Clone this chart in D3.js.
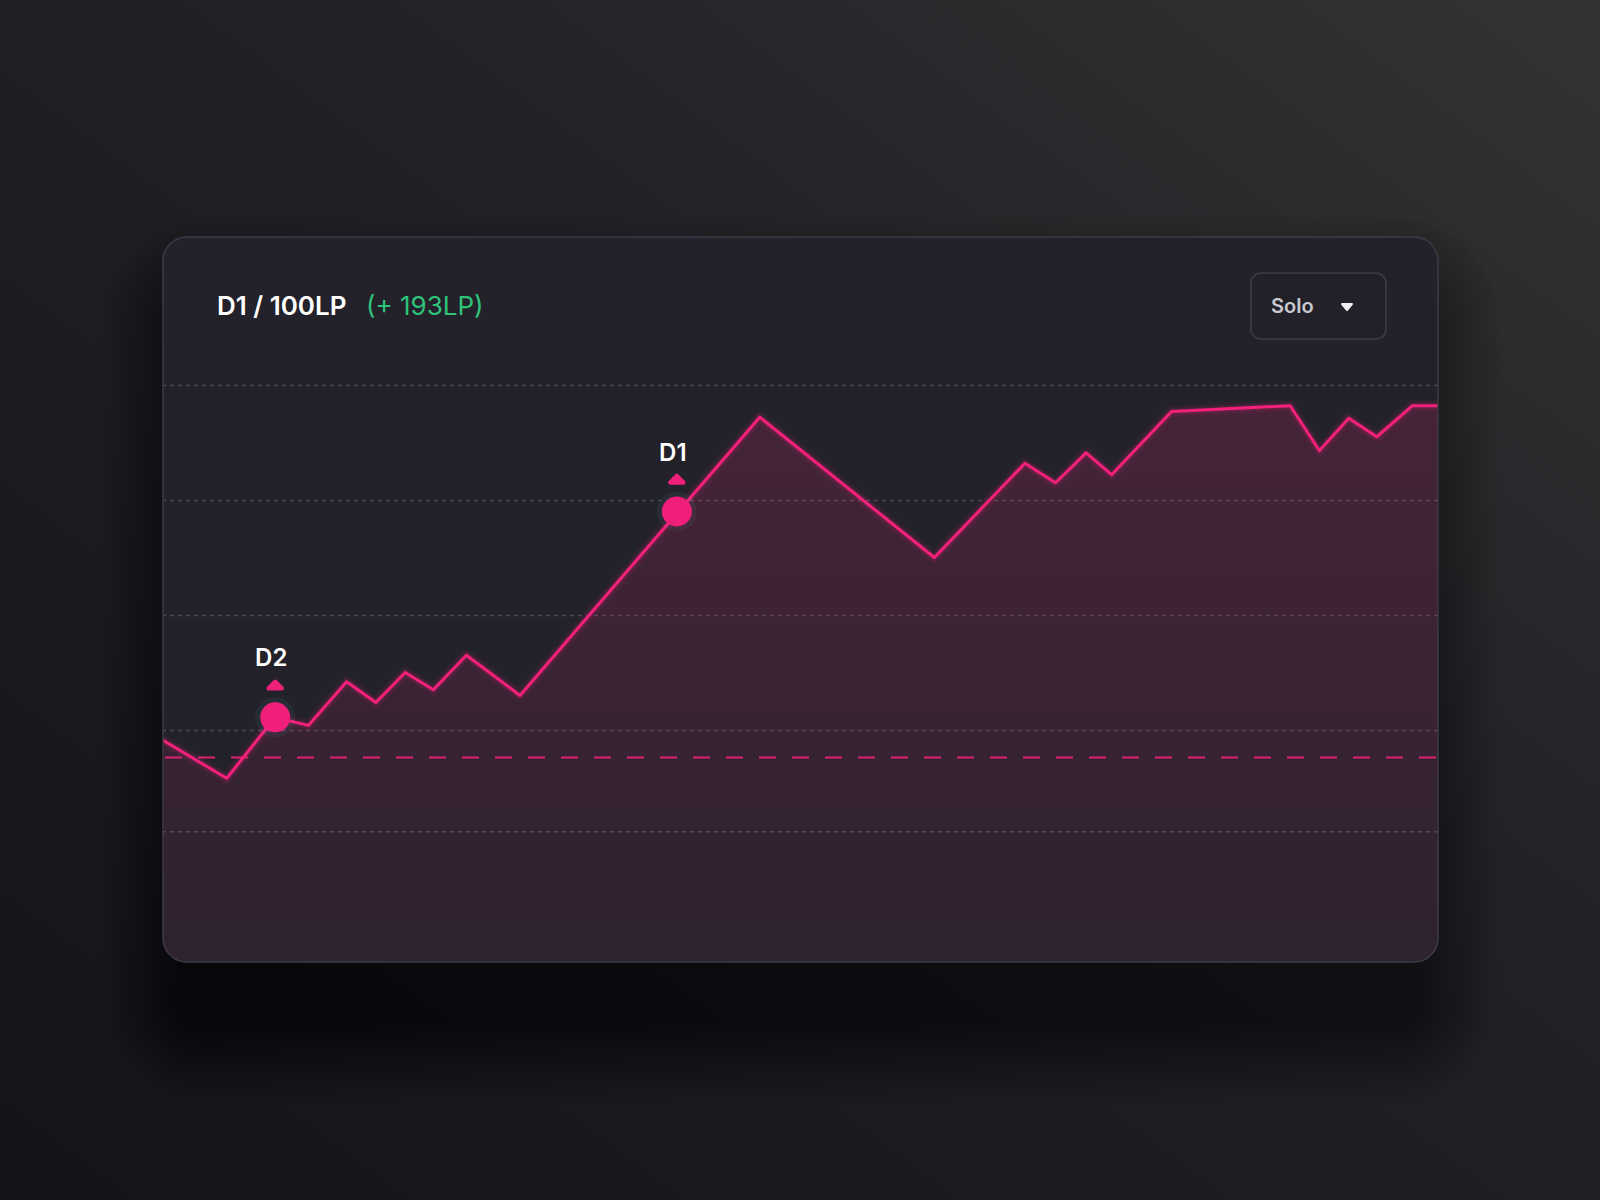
<!DOCTYPE html>
<html>
<head>
<meta charset="utf-8">
<script src="https://cdn.jsdelivr.net/npm/d3@7"></script>
<style>
  html, body { margin: 0; padding: 0; background: #1b1a1f; }
  svg { display: block; }
</style>
</head>
<body>
<div id="chart"></div>
<script>
'use strict';

// LP history (x = game index along the season, y = LP relative to D2 0LP)
var games = [0, 5.0, 8.8, 11.4, 14.4, 16.7, 19.0, 21.2, 23.8, 28.0, 46.8, 60.5, 67.6, 70.0, 72.4, 74.4, 79.1, 88.4, 90.7, 93.0, 95.2, 98.0, 100];
var lpValues = [-9, -42, 11, 4, 42, 24, 50, 35, 65, 30, 272, 150, 232, 215, 241, 222, 277, 282, 243, 271, 255, 282, 282];

// promotion markers
var markerLabels = ['D2', 'D1'];
var markerGames = [8.8, 40.3];
var markerLP = [11, 190];

// horizontal guide values
var gridTicks = [-88, 0, 100, 200, 300];
var startLP = -24;

var titleText = 'D1 / 100LP';
var gainText = '(+ 193LP)';
var queueText = 'Solo';

var W = 1600, H = 1200;
var card = { x: 163, y: 237, w: 1275, h: 725, r: 24 };

var svg = d3.select('#chart').append('svg')
  .attr('width', W)
  .attr('height', H);

var defs = svg.append('defs');

var bg = defs.append('linearGradient').attr('id', 'bg')
  .attr('x1', '100%').attr('y1', '0%').attr('x2', '0%').attr('y2', '100%');
bg.append('stop').attr('offset', '0%').attr('stop-color', '#333335');
bg.append('stop').attr('offset', '40%').attr('stop-color', '#222226');
bg.append('stop').attr('offset', '100%').attr('stop-color', '#141318');

var areaGrad = defs.append('linearGradient').attr('id', 'areaGrad')
  .attr('gradientUnits', 'userSpaceOnUse')
  .attr('x1', 0).attr('y1', 385).attr('x2', 0).attr('y2', card.y + card.h);
areaGrad.append('stop').attr('offset', '0%').attr('stop-color', '#ff2a7f').attr('stop-opacity', 0.16);
areaGrad.append('stop').attr('offset', '100%').attr('stop-color', '#ff2a7f').attr('stop-opacity', 0.05);

defs.append('clipPath').attr('id', 'cardClip')
  .append('rect')
  .attr('x', card.x).attr('y', card.y)
  .attr('width', card.w).attr('height', card.h)
  .attr('rx', card.r);

// page background
svg.append('rect').attr('width', W).attr('height', H).attr('fill', 'url(#bg)');

// soft shadow under the card, built from stacked translucent layers
var layers = d3.range(1, 17);
svg.append('g').selectAll('rect')
  .data(layers)
  .enter()
  .append('rect')
  .attr('x', function (d) { return card.x + 20 - d * 5; })
  .attr('y', function (d) { return card.y + 60 - d * 5; })
  .attr('width', function (d) { return card.w - 40 + d * 10; })
  .attr('height', function (d) { return card.h + d * 10; })
  .attr('rx', function (d) { return card.r + d * 5; })
  .attr('fill', '#0c0b0e')
  .attr('opacity', 0.025);

// card
svg.append('rect')
  .attr('x', card.x).attr('y', card.y)
  .attr('width', card.w).attr('height', card.h)
  .attr('rx', card.r)
  .attr('fill', '#23222b');

// scales
var x = d3.scaleLinear().domain([0, 100]).range([card.x, card.x + card.w]);
var y = d3.scaleLinear().domain([0, 300]).range([730, 385]);

var plot = svg.append('g').attr('clip-path', 'url(#cardClip)');

// grid lines
plot.append('g')
  .attr('class', 'grid')
  .attr('transform', 'translate(' + (card.x + card.w) + ',0)')
  .call(d3.axisLeft(y).tickValues(gridTicks).tickSize(card.w).tickFormat(''))
  .call(function (g) {
    g.select('.domain').remove();
    g.selectAll('.tick line')
      .attr('stroke', '#4a4954')
      .attr('stroke-width', 1.5)
      .attr('stroke-dasharray', '4 4');
  });

var pts = games.map(function (g, i) { return { g: g, v: lpValues[i] }; });

var area = d3.area()
  .x(function (d) { return x(d.g); })
  .y0(card.y + card.h)
  .y1(function (d) { return y(d.v); });

plot.append('path')
  .datum(pts)
  .attr('d', area)
  .attr('fill', 'url(#areaGrad)');

// starting LP reference
plot.append('line')
  .attr('x1', card.x).attr('x2', card.x + card.w)
  .attr('y1', y(startLP)).attr('y2', y(startLP))
  .attr('stroke', '#e01f72')
  .attr('stroke-width', 2)
  .attr('stroke-dasharray', '17 16')
  .attr('stroke-dashoffset', -2);

var line = d3.line()
  .x(function (d) { return x(d.g); })
  .y(function (d) { return y(d.v); });

// glow under the line
[12, 7].forEach(function (w, i) {
  plot.append('path')
    .datum(pts)
    .attr('d', line)
    .attr('fill', 'none')
    .attr('stroke', '#ff2a7f')
    .attr('stroke-opacity', i ? 0.12 : 0.06)
    .attr('stroke-width', w)
    .attr('stroke-linejoin', 'round');
});

plot.append('path')
  .datum(pts)
  .attr('d', line)
  .attr('fill', 'none')
  .attr('stroke', '#f5207b')
  .attr('stroke-width', 3)
  .attr('stroke-linejoin', 'round')
  .attr('stroke-linecap', 'round');

// promotion markers
var markers = markerLabels.map(function (l, i) {
  return { label: l, g: markerGames[i], v: markerLP[i] };
});

var mk = svg.append('g').selectAll('g')
  .data(markers)
  .enter()
  .append('g')
  .attr('transform', function (d) { return 'translate(' + x(d.g) + ',' + y(d.v) + ')'; });

mk.append('circle')
  .attr('r', 20)
  .attr('fill', '#8fc4e0')
  .attr('opacity', 0.06);

mk.append('circle')
  .attr('r', 15)
  .attr('fill', '#f01f7a');

mk.append('path')
  .attr('d', 'M-6.5,-29L6.5,-29L0,-35.5Z')
  .attr('fill', '#f01f7a')
  .attr('stroke', '#f01f7a')
  .attr('stroke-width', 4.5)
  .attr('stroke-linejoin', 'round');

mk.append('text')
  .attr('x', -4)
  .attr('y', -51)
  .attr('text-anchor', 'middle')
  .attr('fill', '#ffffff')
  .attr('font-family', 'Inter, "Noto Sans", sans-serif')
  .attr('font-weight', 600)
  .attr('font-size', 24)
  .text(function (d) { return d.label; });

// card border on top
svg.append('rect')
  .attr('x', card.x).attr('y', card.y)
  .attr('width', card.w).attr('height', card.h)
  .attr('rx', card.r)
  .attr('fill', 'none')
  .attr('stroke', '#3c3b47')
  .attr('stroke-width', 1.5);

// header
svg.append('text')
  .attr('x', 217)
  .attr('y', 315)
  .attr('font-family', 'Inter, "Noto Sans", sans-serif')
  .attr('font-size', 26)
  .attr('font-weight', 600)
  .attr('fill', '#ffffff')
  .text(titleText);

svg.append('text')
  .attr('x', 366)
  .attr('y', 315)
  .attr('font-family', 'Inter, "Noto Sans", sans-serif')
  .attr('font-size', 26)
  .attr('font-weight', 400)
  .attr('fill', '#2fc37a')
  .text(gainText);

// queue dropdown
var dd = svg.append('g').attr('transform', 'translate(1251,273)');
dd.append('rect')
  .attr('width', 135).attr('height', 66)
  .attr('rx', 10)
  .attr('fill', '#22212a')
  .attr('stroke', '#3c3b47')
  .attr('stroke-width', 1.5);
dd.append('text')
  .attr('x', 20)
  .attr('y', 40)
  .attr('font-family', 'Inter, "Noto Sans", sans-serif')
  .attr('font-size', 20)
  .attr('font-weight', 600)
  .attr('fill', '#c9c8ce')
  .text(queueText);
dd.append('path')
  .attr('d', 'M91,31L101,31L96,37Z')
  .attr('fill', '#eeeef0')
  .attr('stroke', '#eeeef0')
  .attr('stroke-width', 2)
  .attr('stroke-linejoin', 'round');
</script>
</body>
</html>
